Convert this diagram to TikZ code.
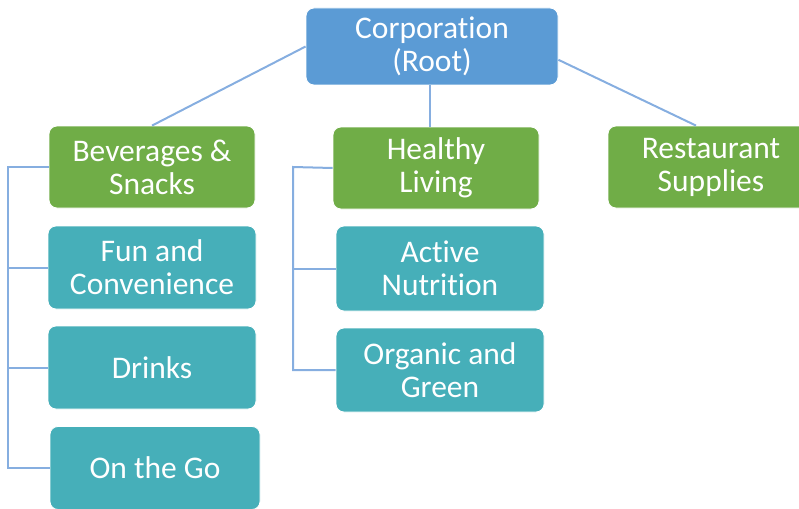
\documentclass[tikz,border=0pt]{standalone}
\usepackage{fontspec}
\setmainfont{Carlito}[Ligatures=NoCommon]
\usepackage{xcolor}
\usepackage{tikz}
\usetikzlibrary{positioning}

\definecolor{rootblue}{HTML}{5B9BD5}
\definecolor{groupgreen}{HTML}{70AD47}
\definecolor{leafteal}{HTML}{46AFB9}
\definecolor{linkblue}{HTML}{86AEE0}

\begin{document}
\begin{tikzpicture}[x=1pt, y=-1pt,
    box/.style={rectangle, rounded corners=8pt, draw=white, line width=0.8pt,
        text=white, align=center, font=\fontsize{31.5}{33}\selectfont,
        inner sep=0pt},
    rootbox/.style={box, fill=rootblue, minimum width=252pt, minimum height=77pt},
    groupbox/.style={box, fill=groupgreen, minimum width=206pt, minimum height=82pt},
    leafbox/.style={box, fill=leafteal, minimum width=208pt, minimum height=83pt},
    link/.style={draw=linkblue, line width=2pt}]
    \useasboundingbox (0,0) rectangle (799,508);
    \clip (0,0) rectangle (799,508);

    % Nodes
    \node[rootbox] (root) at (432, 46.5) {Corporation\\(Root)};
    \node[groupbox] (bev) at (152, 167) {Beverages \&\\Snacks};
    \node[groupbox] (healthy) at (436, 168) {Healthy\\Living};
    \node[groupbox] (rest) at (711, 167) {Restaurant\\Supplies};
    \node[leafbox] (fun) at (152, 267.5) {Fun and\\Convenience};
    \node[leafbox] (drinks) at (152, 367.5) {Drinks};
    \node[leafbox, minimum width=210pt] (onthego) at (155, 468) {On the Go};
    \node[leafbox, minimum height=85pt] (active) at (440, 268.5) {Active\\Nutrition};
    \node[leafbox, minimum height=84pt] (organic) at (440, 370) {Organic and\\Green};
    \coordinate (bevspine) at (8, 167);
    \coordinate (healthyspine) at (293, 167);

    % Edges
    \draw[link] (root.west) -- (bev.north);
    \draw[link] (root.south -| 430,0) -- (healthy.north -| 430,0);
    \draw[link] (root.-6) -- ([xshift=-15pt]rest.north);
    \draw[link] (bev.west) -- (bevspine) |- (onthego.west);
    \draw[link] (fun.west) -- (fun.west -| bevspine);
    \draw[link] (drinks.west) -- (drinks.west -| bevspine);
    \draw[link] (healthy.west) -- (healthyspine) |- (organic.west);
    \draw[link] (active.west) -- (active.west -| healthyspine);
\end{tikzpicture}
\end{document}
